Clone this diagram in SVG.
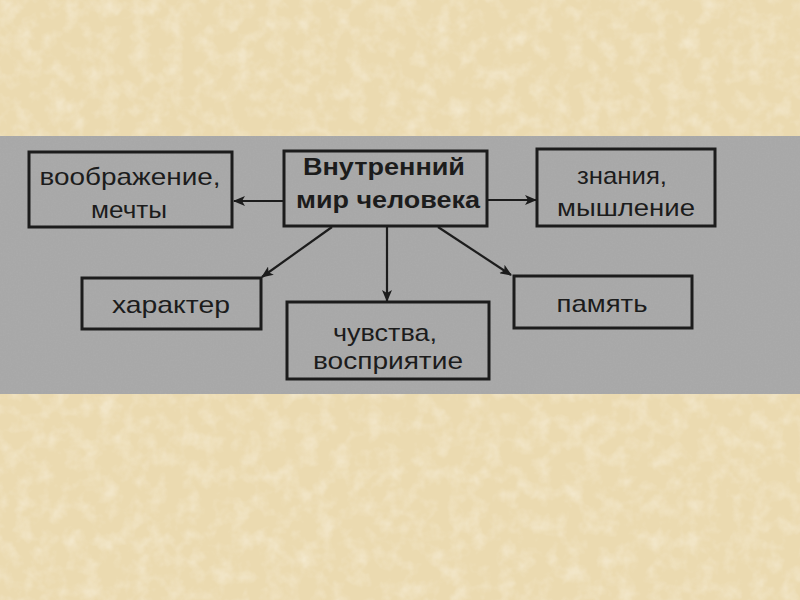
<svg xmlns="http://www.w3.org/2000/svg" width="800" height="600" viewBox="0 0 800 600">
<defs>
<filter id="tex" x="0" y="0" width="100%" height="100%">
<feTurbulence type="fractalNoise" baseFrequency="0.06" numOctaves="3" seed="4" result="n"/>
<feColorMatrix in="n" type="matrix" values="0 0 0 0 1  0 0 0 0 0.98  0 0 0 0 0.92  0 0 0 -1.4 0.8"/>
</filter>
<filter id="grain" x="0" y="0" width="100%" height="100%">
<feTurbulence type="fractalNoise" baseFrequency="0.6" numOctaves="2" seed="2" result="n"/>
<feColorMatrix in="n" type="matrix" values="0 0 0 0 0.5  0 0 0 0 0.5  0 0 0 0 0.5  0 0 0 -0.9 0.55"/>
</filter>
<marker id="ah" viewBox="0 0 12 10" refX="11" refY="5" markerWidth="12" markerHeight="10" markerUnits="userSpaceOnUse" orient="auto">
<path d="M0,0 L12,5 L0,10 L3,5 Z" fill="#1c1c1c"/>
</marker>
</defs>
<style>
.box{fill:none;stroke:#1c1c1c;stroke-width:3}
.t{font-family:"Liberation Sans",Arial,sans-serif;font-size:24px;fill:#1c1c1c;text-anchor:middle}
.b{font-weight:bold}
.c{stroke:#1c1c1c;stroke-width:2.2;fill:none;marker-end:url(#ah)}
</style>
<rect x="0" y="0" width="800" height="600" fill="#ebdab0"/>
<rect x="0" y="0" width="800" height="600" filter="url(#tex)" opacity="0.55"/>
<rect x="0" y="136" width="800" height="258" fill="#a8a8a8"/>
<rect x="0" y="136" width="800" height="258" filter="url(#grain)" opacity="0.35"/>
<g id="connectors">
<line class="c" x1="283" y1="201" x2="234" y2="201"/>
<line class="c" x1="488" y1="200" x2="536" y2="200"/>
<line class="c" x1="332" y1="227" x2="262" y2="277"/>
<line class="c" x1="387" y1="227" x2="387" y2="301"/>
<line class="c" x1="438" y1="227" x2="511" y2="275"/>
</g>
<g id="center">
<rect class="box" x="284" y="151" width="203" height="75"/>
<text class="t b" x="384" y="175" textLength="162" lengthAdjust="spacingAndGlyphs">Внутренний</text>
<text class="t b" x="388" y="208" textLength="184" lengthAdjust="spacingAndGlyphs">мир человека</text>
</g>
<g id="imagination">
<rect class="box" x="29" y="152" width="203" height="75"/>
<text class="t" x="130" y="185" textLength="181" lengthAdjust="spacingAndGlyphs">воображение,</text>
<text class="t" x="129" y="218" textLength="76" lengthAdjust="spacingAndGlyphs">мечты</text>
</g>
<g id="knowledge">
<rect class="box" x="537" y="149" width="178" height="77"/>
<text class="t" x="622" y="184" textLength="90" lengthAdjust="spacingAndGlyphs">знания,</text>
<text class="t" x="626" y="216" textLength="138" lengthAdjust="spacingAndGlyphs">мышление</text>
</g>
<g id="character">
<rect class="box" x="82" y="278" width="179" height="51"/>
<text class="t" x="171" y="313" textLength="118" lengthAdjust="spacingAndGlyphs">характер</text>
</g>
<g id="feelings">
<rect class="box" x="287" y="302" width="202" height="77"/>
<text class="t" x="385" y="341" textLength="104" lengthAdjust="spacingAndGlyphs">чувства,</text>
<text class="t" x="388" y="369" textLength="150" lengthAdjust="spacingAndGlyphs">восприятие</text>
</g>
<g id="memory">
<rect class="box" x="514" y="276" width="178" height="52"/>
<text class="t" x="602" y="312" textLength="91" lengthAdjust="spacingAndGlyphs">память</text>
</g>
</svg>
